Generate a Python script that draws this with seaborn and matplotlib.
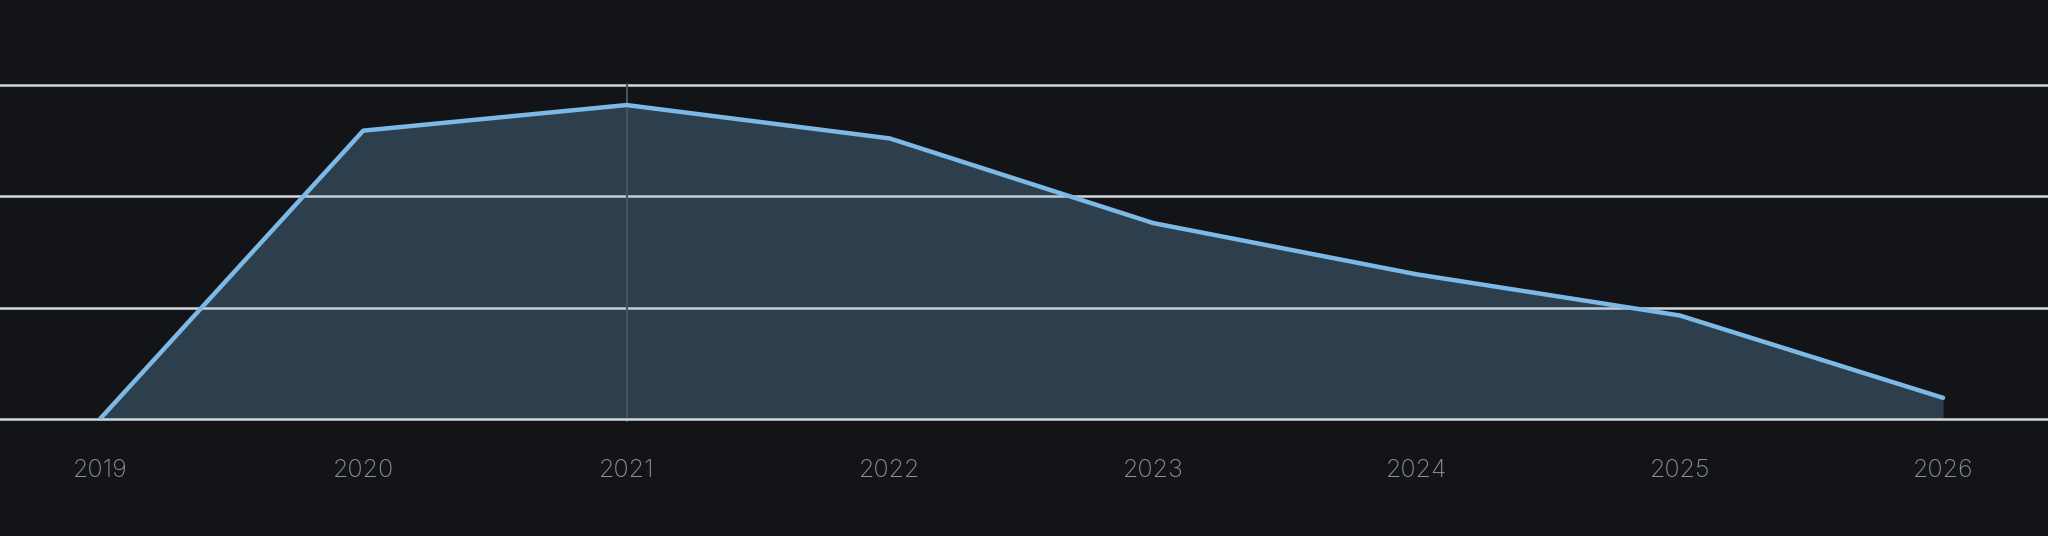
import matplotlib
matplotlib.use("Agg")
import matplotlib.pyplot as plt
import seaborn as sns
import pandas as pd
import numpy as np

years = [2019, 2020, 2021, 2022, 2023, 2024, 2025, 2026]
values = [0.0, 25.9, 28.2, 25.2, 17.6, 13.0, 9.3, 1.9]
grid_levels = [0, 10, 20, 30]
tick_labels = [str(y) for y in years]
highlight_year = 2021

BG = "#121417"
LINE = "#7db9e6"
GRID = "#d4d7db"
TEXT = "#8c8f94"

sns.set_theme(style="dark")
plt.rcParams['font.family'] = ['Inter', 'DejaVu Sans']

df = pd.DataFrame({"year": years, "value": values})

fig = plt.figure(figsize=(20.48, 5.36), dpi=100, facecolor=BG)
ax = fig.add_axes([0, 117/536, 1, 419/536])
ax.set_facecolor(BG)

for g in grid_levels:
    ax.axhline(g, color=GRID, lw=1.8, zorder=2.5 if g == 0 else 1, clip_on=False)

ax.axvline(highlight_year, ymin=-0.005, ymax=30/37.63 + 0.002, color="#46525d", lw=1.5, zorder=2.2, clip_on=False)

ax.fill_between(df["year"], df["value"], 0, color=LINE, alpha=0.26, lw=0, zorder=2)
sns.lineplot(data=df, x="year", y="value", ax=ax, color=LINE, lw=3.2, zorder=3)

ax.set_xlim(2019 - 100/263.4, 2026 + 105/263.4)
ax.set_ylim(0, 30 * 419 / 334)
ax.set_xticks(years)
ax.set_xticklabels(tick_labels, fontsize=18, color=TEXT, fontweight='light')
ax.tick_params(axis='x', length=0, pad=29)
ax.set_yticks([])
ax.set_xlabel("")
ax.set_ylabel("")
ax.grid(False)
for s in ax.spines.values():
    s.set_visible(False)

fig.savefig("out.png", dpi=100, facecolor=BG)
